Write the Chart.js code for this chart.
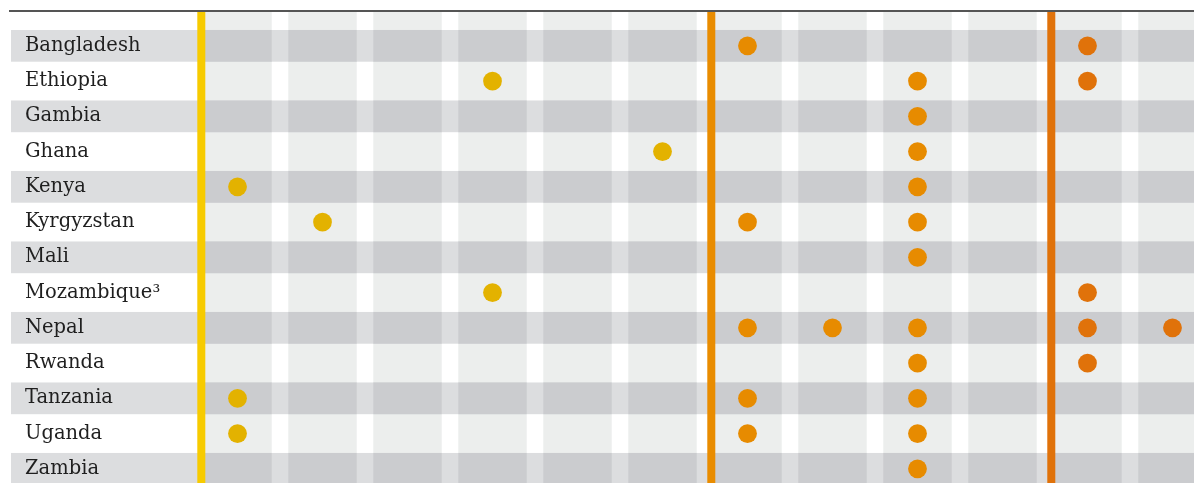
<!DOCTYPE html>
<html>
<head>
<meta charset="utf-8">
<script src="https://cdn.jsdelivr.net/npm/chart.js@4.4.1/dist/chart.umd.min.js"></script>
<style>
  html, body { margin: 0; padding: 0; background: #fff; }
</style>
</head>
<body>
<canvas id="chart" width="1194" height="483"></canvas>
<script>
(() => {
  'use strict';

  // row labels, top to bottom
  const countries = [
    'Bangladesh', 'Ethiopia', 'Gambia', 'Ghana', 'Kenya', 'Kyrgyzstan', 'Mali',
    'Mozambique\u00b3', 'Nepal', 'Rwanda', 'Tanzania', 'Uganda', 'Zambia',
  ];

  // column indexes holding a dot, one list per country
  const dotColumns = [
    [6, 10],
    [3, 8, 10],
    [8],
    [5, 8],
    [0, 8],
    [1, 6, 8],
    [8],
    [3, 10],
    [6, 7, 8, 10, 11],
    [8, 10],
    [0, 6, 8],
    [0, 6, 8],
    [8],
  ];

  // number of columns, and the column where each phase starts
  const columnCount = 12;
  const phaseStart = [0, 6, 10];
  const phaseDotColor = ['#e3b200', '#e78b00', '#e0720a'];
  const phaseLineColor = ['#f7cb00', '#e98c00', '#e0720a'];

  // colours
  const C = {
    rule: '#555555',
    rowBand: '#dcdddf',
    col: '#eceeed',
    colInRow: '#cbcccf',
    text: '#1f1f1f',
  };

  const phaseOf = (col) => {
    let p = 0;
    phaseStart.forEach((s, i) => { if (col >= s) p = i; });
    return p;
  };

  // one scatter dataset per phase
  const datasets = phaseStart.map((s, p) => ({
    data: dotColumns.flatMap((cols, row) =>
      cols.filter((c) => phaseOf(c) === p).map((c) => ({ x: c, y: row }))
    ),
    backgroundColor: phaseDotColor[p],
    borderWidth: 0,
    pointRadius: 9.4,
    pointHoverRadius: 9.4,
  }));

  // draws the grid of bands, the top rule and the phase lines (under the labels)
  const backdrop = {
    id: 'backdrop',
    beforeDraw(chart) {
      const { ctx, chartArea: a, scales: { x, y } } = chart;
      const half = 0.4025;
      ctx.save();

      // column bands
      ctx.fillStyle = C.col;
      for (let c = 0; c < columnCount; c++) {
        const x0 = x.getPixelForValue(c - half), x1 = x.getPixelForValue(c + half);
        ctx.fillRect(x0, a.top, x1 - x0, a.bottom - a.top);
      }

      // shaded rows
      const labelLeft = y.left - 14;
      countries.forEach((name, r) => {
        if (r % 2) return;
        const y0 = y.getPixelForValue(r - 0.45), y1 = y.getPixelForValue(r + 0.45);
        ctx.fillStyle = C.rowBand;
        ctx.fillRect(labelLeft, y0, a.right - labelLeft, y1 - y0);
        ctx.fillStyle = C.colInRow;
        for (let c = 0; c < columnCount; c++) {
          const x0 = x.getPixelForValue(c - half), x1 = x.getPixelForValue(c + half);
          ctx.fillRect(x0, y0, x1 - x0, y1 - y0);
        }
      });

      // top rule
      ctx.fillStyle = C.rule;
      ctx.fillRect(labelLeft - 2, a.top - 2, a.right - labelLeft + 2, 2);

      // phase lines, just left of the phase's first column
      phaseStart.forEach((s, p) => {
        const px = x.getPixelForValue(s - half) - 2;
        ctx.fillStyle = phaseLineColor[p];
        ctx.fillRect(px - 4, a.top, 8, a.bottom - a.top);
      });

      ctx.restore();
    },
  };

  Chart.defaults.font.family = "'DejaVu Serif', serif";

  new Chart(document.getElementById('chart'), {
    type: 'scatter',
    data: { datasets },
    options: {
      responsive: false,
      animation: false,
      devicePixelRatio: 1,
      layout: { autoPadding: false, padding: { left: 25, top: 12, right: 0, bottom: 0 } },
      plugins: { legend: { display: false }, tooltip: { enabled: false } },
      scales: {
        x: {
          type: 'linear',
          display: false,
          min: -0.4025,
          max: 11.253,
        },
        y: {
          type: 'linear',
          reverse: true,
          min: -0.96,
          max: 12.402,
          grid: { display: false },
          border: { display: false },
          afterBuildTicks: (s) => { s.ticks = countries.map((c, i) => ({ value: i })); },
          afterFit: (s) => {
            s.width = 178.3;
            s.paddingTop = 0;
            s.paddingBottom = 0;
          },
          ticks: {
            autoSkip: false,
            crossAlign: 'far',
            padding: 0,
            color: C.text,
            font: { size: 19.5 },
            callback: (v) => countries[v] ?? '',
          },
        },
      },
    },
    plugins: [backdrop],
  });
})();
</script>
</body>
</html>
